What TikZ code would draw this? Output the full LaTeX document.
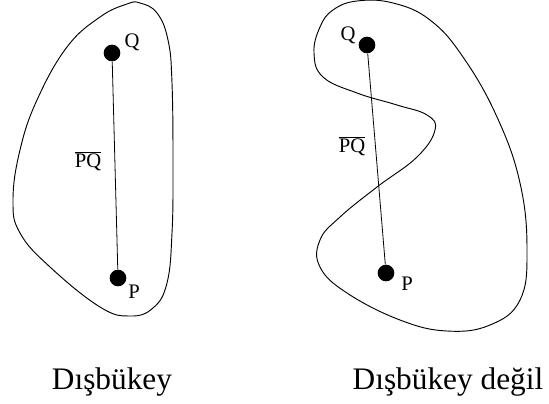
\documentclass[tikz,border=0pt]{standalone}
\usepackage{fontspec}
\setmainfont{Liberation Serif}
\usepackage{tikz}
\usetikzlibrary{positioning}
\newcommand{\convexCoords}{(140,3)(157,13)(168,40)(172,83)(173,167)(172,233)(167,283)(153,308)(130,316)(100,307)(50,267)(20,233)(13,200)(20,150)(37,100)(67,47)(100,17)(127,4)}
\newcommand{\waveCoords}{(333,10)(357,1)(393,3)(430,20)(463,57)(497,117)(520,183)(527,250)(520,300)(490,325)(447,331)(400,320)(347,293)(320,267)(320,240)(340,217)(377,187)(417,157)(435,130)(427,115)(397,105)(357,93)(323,77)(314,53)(320,27)}

\begin{document}
\begin{tikzpicture}[x=0.75pt, y=-0.75pt,
  dot/.style={circle, fill=black, inner sep=0pt, minimum size=12.5pt},
  ptlabel/.style={font=\fontsize{15.5}{18}\selectfont, inner sep=0pt},
  caption/.style={font=\fontsize{23.5}{28}\selectfont, anchor=base, inner sep=0pt}]
  \useasboundingbox (0,0) rectangle (549,403);
  % convex region
  \draw[line width=0.7pt] plot[smooth cycle, tension=0.7] coordinates {\convexCoords};
  \node[dot] (qL) at (112,53) {};
  \node[dot] (pL) at (118,278) {};
  \draw[line width=0.6pt] (qL) -- (pL);
  \node[ptlabel] (qLlab) at (132,42) {Q};
  \node[ptlabel] (pLlab) at (134,292) {P};
  \node[ptlabel] (pqL) at (88,161) {$\overline{\mbox{PQ}}$};
  % non-convex region
  \draw[line width=0.7pt] plot[smooth cycle, tension=0.7] coordinates {\waveCoords};
  \node[dot] (qR) at (367,45) {};
  \node[dot] (pR) at (386,273) {};
  \draw[line width=0.6pt] (qR) -- (pR);
  \node[ptlabel] (qRlab) at (348,35) {Q};
  \node[ptlabel] (pRlab) at (407,284) {P};
  \node[ptlabel] (pqR) at (352,146) {$\overline{\mbox{PQ}}$};
  % captions
  \node[caption] (capL) at (112,389) {Dışbükey};
  \node[caption] (capR) at (448,389) {Dışbükey değil};
\end{tikzpicture}
\end{document}
